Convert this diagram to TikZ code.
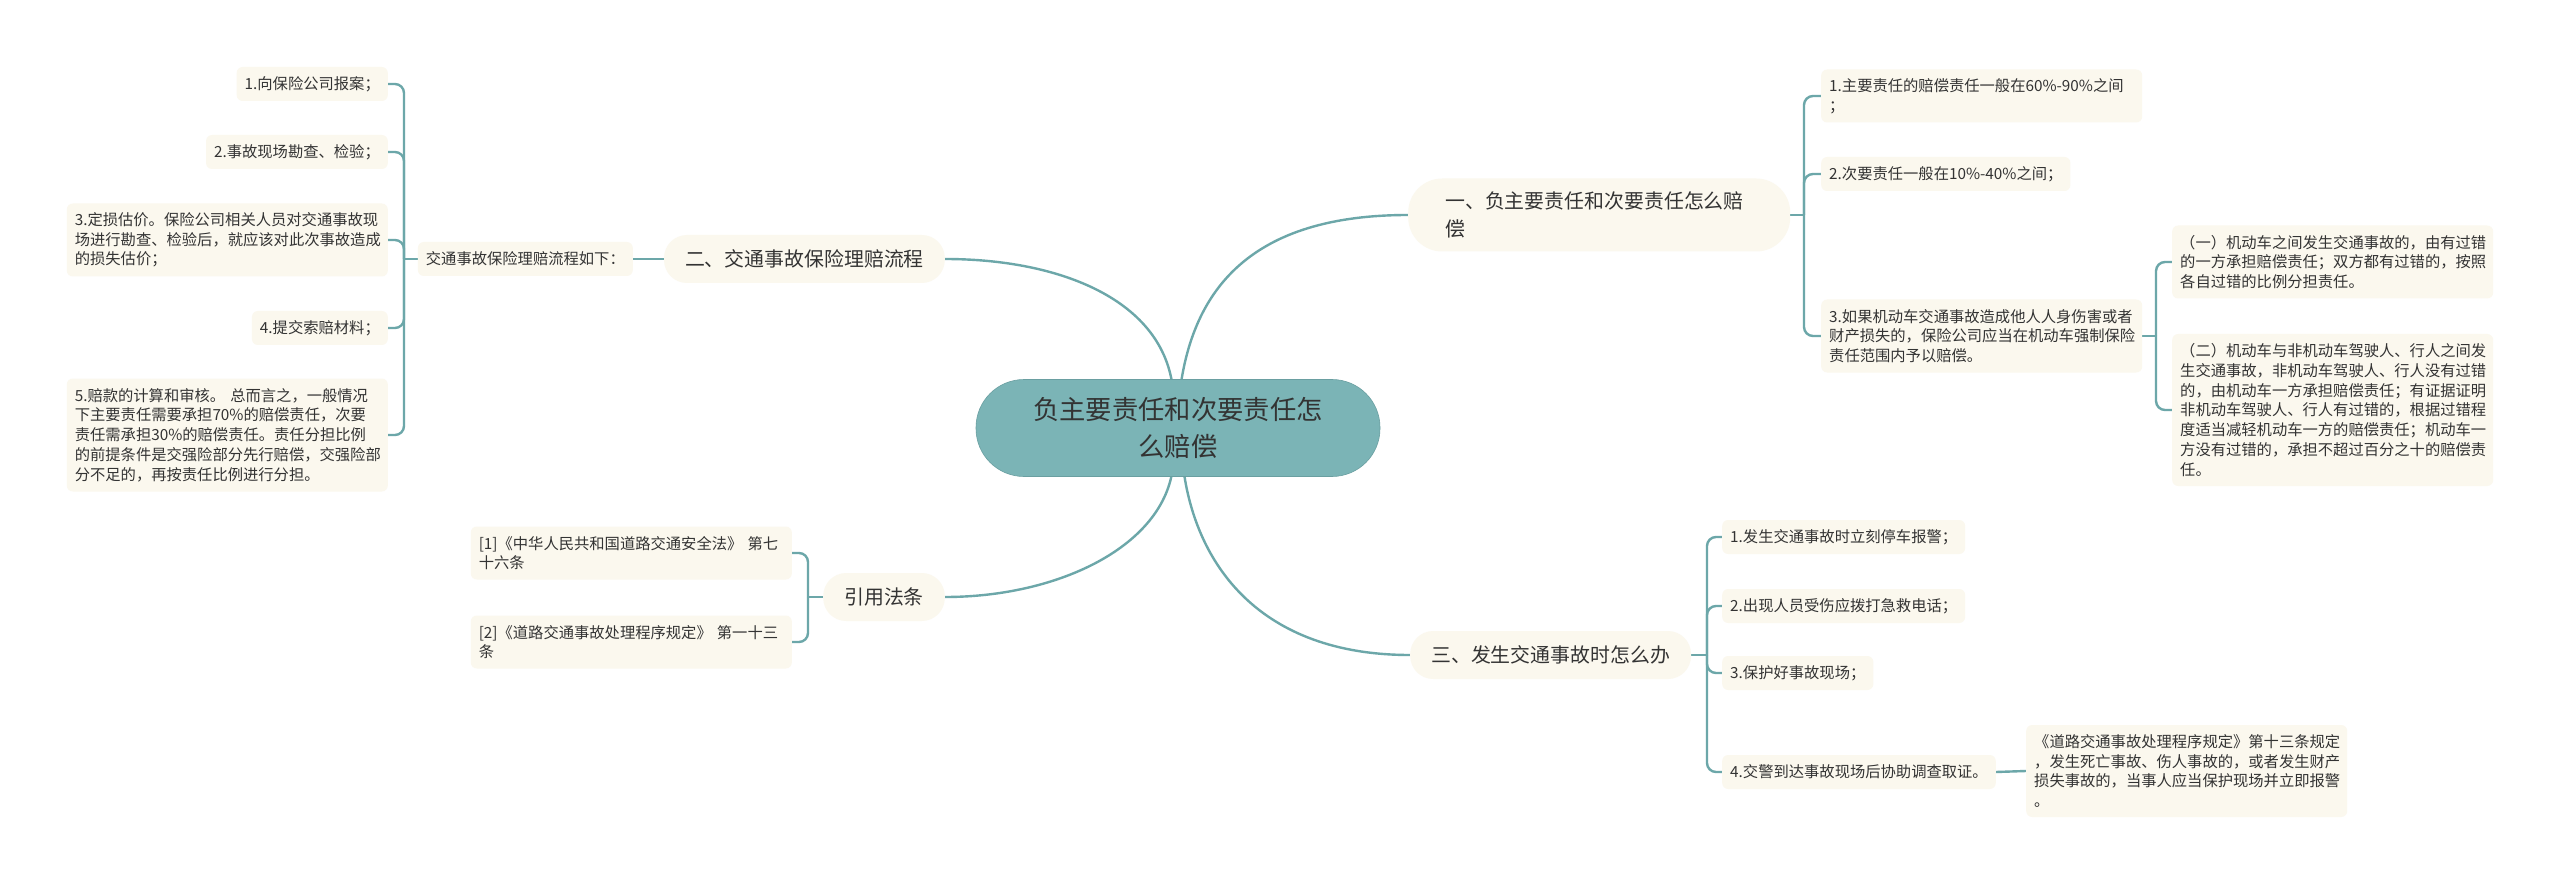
\documentclass[tikz,border=0pt]{standalone}
\usepackage{fontspec}
\setmainfont{Noto Sans CJK SC}
\usetikzlibrary{calc}
\definecolor{leaffill}{HTML}{FBF8EE}
\definecolor{linkc}{HTML}{6CA7A9}
\definecolor{rootfill}{HTML}{7BB4B6}
\definecolor{rootline}{HTML}{6A9FA1}
\definecolor{txt}{HTML}{333333}
\pgfdeclarelayer{bg}
\pgfsetlayers{bg,main}
\tikzset{
  leaf/.style={fill=leaffill, rounded corners=6pt, inner xsep=8pt, inner ysep=0pt,
    font=\fontsize{15.3}{19.7}\selectfont, text=txt},
  leafw/.style={leaf, text width=305pt, align=left},
  oneline/.style={minimum height=34pt},
  twoline/.style={minimum height=53pt},
  threeline/.style={minimum height=73pt},
  fourline/.style={minimum height=92pt},
  fiveline/.style={minimum height=113pt},
  sevenline/.style={minimum height=152pt},
  topic/.style={fill=leaffill, rounded corners=23pt, inner xsep=21pt, inner ysep=0pt,
    minimum height=48pt, font=\fontsize{19.9}{27.5}\selectfont, text=txt},
  rootnode/.style={fill=rootfill, draw=rootline, line width=0.6pt, rounded corners=48pt,
    minimum width=404pt, minimum height=97pt, text width=380pt, align=center,
    font=\fontsize{26.3}{36.7}\selectfont, text=txt},
  link/.style={draw=linkc, line width=2.4pt},
  bracket/.style={link, rounded corners=9pt},
}
\begin{document}
\begin{tikzpicture}[x=1pt,y=-1pt]
\useasboundingbox (0,0) rectangle (2560,885);

% root
\node[rootnode] (c) at (1178,428) {负主要责任和次要责任怎\\么赔偿};

% main topics
\node[topic, anchor=west, rounded corners=34pt, minimum height=73pt, text width=308pt,
      inner xsep=37pt, align=left] (t1) at (1408,215) {一、负主要责任和次要责任怎么赔\\偿};
\node[topic, anchor=east] (t2) at (945,259) {二、交通事故保险理赔流程};
\node[topic, anchor=west] (t3) at (1410,655) {三、发生交通事故时怎么办};
\node[topic, anchor=east] (t4) at (945,597) {引用法条};

% left tree: 二
\node[leaf, oneline, anchor=east] (b) at (633,259) {交通事故保险理赔流程如下：};
\node[leaf, oneline, anchor=east] (a1) at (388,84) {1.向保险公司报案；};
\node[leaf, oneline, anchor=east] (a2) at (388,152) {2.事故现场勘查、检验；};
\node[leafw, threeline, anchor=east] (a3) at (388,240) {3.定损估价。保险公司相关人员对交通事故现\\场进行勘查、检验后，就应该对此次事故造成\\的损失估价；};
\node[leaf, oneline, anchor=east] (a4) at (388,328) {4.提交索赔材料；};
\node[leafw, fiveline, anchor=east] (a5) at (388,435) {5.赔款的计算和审核。 总而言之，一般情况\\下主要责任需要承担70\%的赔偿责任，次要\\责任需承担30\%的赔偿责任。责任分担比例\\的前提条件是交强险部分先行赔偿，交强险部\\分不足的，再按责任比例进行分担。};

% left tree: 引用法条
\node[leafw, twoline, anchor=east] (f1) at (792,553) {[1]《中华人民共和国道路交通安全法》 第七\\十六条};
\node[leafw, twoline, anchor=east] (f2) at (792,642) {[2]《道路交通事故处理程序规定》 第一十三\\条};

% right tree: 一
\node[leafw, twoline, anchor=west] (c1) at (1821,96) {1.主要责任的赔偿责任一般在60\%-90\%之间\\；};
\node[leaf, oneline, anchor=west] (c2) at (1821,174) {2.次要责任一般在10\%-40\%之间；};
\node[leafw, threeline, anchor=west] (c3) at (1821,336) {3.如果机动车交通事故造成他人人身伤害或者\\财产损失的，保险公司应当在机动车强制保险\\责任范围内予以赔偿。};
\node[leafw, threeline, anchor=west] (d1) at (2172,262) {（一）机动车之间发生交通事故的，由有过错\\的一方承担赔偿责任；双方都有过错的，按照\\各自过错的比例分担责任。};
\node[leafw, sevenline, anchor=west] (d2) at (2172,410) {（二）机动车与非机动车驾驶人、行人之间发\\生交通事故，非机动车驾驶人、行人没有过错\\的，由机动车一方承担赔偿责任；有证据证明\\非机动车驾驶人、行人有过错的，根据过错程\\度适当减轻机动车一方的赔偿责任；机动车一\\方没有过错的，承担不超过百分之十的赔偿责\\任。};

% right tree: 三
\node[leaf, oneline, anchor=west] (e1) at (1722,537) {1.发生交通事故时立刻停车报警；};
\node[leaf, oneline, anchor=west] (e2) at (1722,606) {2.出现人员受伤应拨打急救电话；};
\node[leaf, oneline, anchor=west] (e3) at (1722,673) {3.保护好事故现场；};
\node[leaf, oneline, anchor=west] (e4) at (1722,772) {4.交警到达事故现场后协助调查取证。};
\node[leafw, fourline, anchor=west] (g) at (2026,771) {《道路交通事故处理程序规定》第十三条规定\\，发生死亡事故、伤人事故的，或者发生财产\\损失事故的，当事人应当保护现场并立即报警\\。};

% junction points
\coordinate (ka) at (404,259);
\coordinate (kf) at (808,597);
\coordinate (kc) at (1804,215);
\coordinate (kd) at (2156,336);
\coordinate (ke) at (1707,655);
\coordinate (r1) at (1180,390);
\coordinate (r2) at (1173,390);
\coordinate (r3) at (1173,466);
\coordinate (r4) at (1183,466);

\begin{pgfonlayer}{bg}
\fill[white] (0,0) rectangle (2560,885);
% root to topics
\draw[link] (r1) .. controls (1193,290) and (1250,215) .. (t1.west);
\draw[link] (r2) .. controls (1164,300) and (1060,259) .. (t2.east);
\draw[link] (r3) .. controls (1165,545) and (1060,597) .. (t4.east);
\draw[link] (r4) .. controls (1195,565) and (1260,655) .. (t3.west);
% 二
\draw[link] (t2.west) -- (b.east);
\draw[link] (b.west) -- (ka);
\foreach \n in {a1,a2,a3,a4,a5} \draw[bracket] (ka) |- (\n.east);
% 引用法条
\draw[link] (t4.west) -- (kf);
\foreach \n in {f1,f2} \draw[bracket] (kf) |- (\n.east);
% 一
\draw[link] (t1.east) -- (kc);
\foreach \n in {c1,c2,c3} \draw[bracket] (kc) |- (\n.west);
\draw[link] (c3.east) -- (kd);
\foreach \n in {d1,d2} \draw[bracket] (kd) |- (\n.west);
% 三
\draw[link] (t3.east) -- (ke);
\foreach \n in {e1,e2,e3,e4} \draw[bracket] (ke) |- (\n.west);
\draw[link] (e4.east) -- (g.west);
\end{pgfonlayer}
\end{tikzpicture}
\end{document}
